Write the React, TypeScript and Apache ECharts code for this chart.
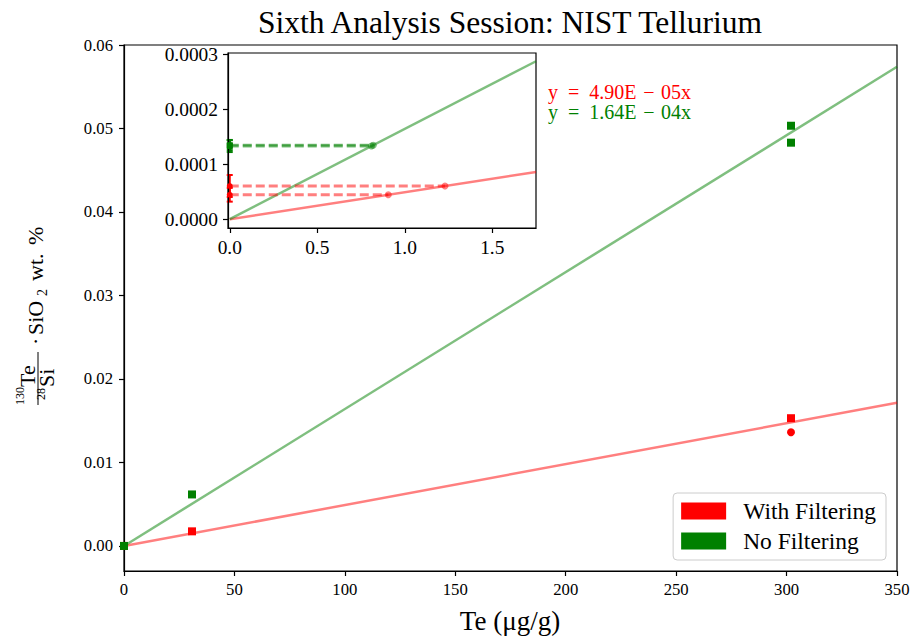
import React, { useEffect, useRef } from "react";
import * as echarts from "echarts";

// ---- data ----
const TITLE = "Sixth Analysis Session: NIST Tellurium";
const X_LABEL = "Te (μg/g)";
const SERIES_NAMES = ["With Filtering", "No Filtering"];
const SLOPE_FILTERED = 4.9e-5;
const SLOPE_UNFILTERED = 1.64e-4;
const EQ_LABELS = ["y\u2002=\u20024.90E\u2004−\u200405x", "y\u2002=\u20021.64E\u2004−\u200404x"];

// main panel points [Te µg/g, ratio]
const RED_SQUARES = [[0, 0], [30.8, 0.00175], [302, 0.0153]];
const RED_CIRCLES = [[0, 0], [302, 0.01362]];
const GREEN_SQUARES = [[0, 0], [30.8, 0.00617], [302, 0.05033], [302, 0.0483]];

// inset: blank measurements (value, error) and interpolated concentrations
const RED_BLANK = [[0.0000603, 0.00002], [0.0000444, 0.0000125]];
const GREEN_BLANK = [[0.000133, 0.000011], [0.0001345, 0.000009]];
const RED_INTERP_X = [1.23, 0.906];
const GREEN_INTERP_X = [0.81, 0.82];

const MAIN_X_TICKS = [0, 50, 100, 150, 200, 250, 300, 350];
const MAIN_Y_TICKS = [0, 0.01, 0.02, 0.03, 0.04, 0.05, 0.06];
const INSET_X_TICKS = [0, 0.5, 1.0, 1.5];
const INSET_Y_TICKS = [0, 0.0001, 0.0002, 0.0003];

const RED = "#ff0000";
const GREEN = "#008000";
const RED_A = "rgba(255,0,0,0.5)";
const GREEN_A = "rgba(0,128,0,0.5)";
const FONT = "Liberation Serif";

function axisCommon(fontSize: number) {
  return {
    axisLine: { show: true, onZero: false, lineStyle: { color: "#000", width: 1.2 } },
    axisTick: { show: true, length: 5, lineStyle: { color: "#000", width: 1.2 } },
    splitLine: { show: false },
    axisLabel: { color: "#000", fontSize, fontFamily: FONT, margin: 10 },
  };
}

function errorBarSeries(name: string, color: string, blanks: number[][]) {
  return {
    type: "custom",
    name,
    xAxisIndex: 1,
    yAxisIndex: 1,
    z: 4,
    silent: true,
    data: blanks.map(([v, e]) => [0, v - e, v + e]),
    renderItem: (params: any, api: any) => {
      const lo = api.coord([api.value(0), api.value(1)]);
      const hi = api.coord([api.value(0), api.value(2)]);
      const cap = 3;
      const style = { stroke: color, lineWidth: 2 };
      return {
        type: "group",
        children: [
          { type: "line", shape: { x1: lo[0], y1: lo[1], x2: hi[0], y2: hi[1] }, style },
          { type: "line", shape: { x1: lo[0] - cap, y1: lo[1], x2: lo[0] + cap, y2: lo[1] }, style },
          { type: "line", shape: { x1: hi[0] - cap, y1: hi[1], x2: hi[0] + cap, y2: hi[1] }, style },
        ],
      };
    },
  };
}

function buildOption() {
  const mainFitX = [0, 350];
  const insetFitX = [0, 1.75];
  const series: any[] = [
    {
      type: "line", xAxisIndex: 0, yAxisIndex: 0, symbol: "none", silent: true,
      lineStyle: { color: RED_A, width: 2.5 },
      data: mainFitX.map((x) => [x, SLOPE_FILTERED * x]),
    },
    {
      type: "line", xAxisIndex: 0, yAxisIndex: 0, symbol: "none", silent: true,
      lineStyle: { color: GREEN_A, width: 2.5 },
      data: mainFitX.map((x) => [x, SLOPE_UNFILTERED * x]),
    },
    {
      name: SERIES_NAMES[0], type: "scatter", xAxisIndex: 0, yAxisIndex: 0, z: 5,
      symbol: "rect", symbolSize: 8, itemStyle: { color: RED, opacity: 1 }, data: RED_SQUARES,
    },
    {
      type: "scatter", xAxisIndex: 0, yAxisIndex: 0, z: 5,
      symbol: "circle", symbolSize: 8, itemStyle: { color: RED, opacity: 1 }, data: RED_CIRCLES,
    },
    {
      name: SERIES_NAMES[1], type: "scatter", xAxisIndex: 0, yAxisIndex: 0, z: 5,
      symbol: "rect", symbolSize: 8, itemStyle: { color: GREEN, opacity: 1 }, data: GREEN_SQUARES,
    },
    {
      type: "line", xAxisIndex: 1, yAxisIndex: 1, symbol: "none", silent: true,
      lineStyle: { color: RED_A, width: 2.5 },
      data: insetFitX.map((x) => [x, SLOPE_FILTERED * x]),
    },
    {
      type: "line", xAxisIndex: 1, yAxisIndex: 1, symbol: "none", silent: true,
      lineStyle: { color: GREEN_A, width: 2.5 },
      data: insetFitX.map((x) => [x, SLOPE_UNFILTERED * x]),
    },
  ];
  RED_BLANK.forEach(([v], i) => {
    series.push({
      type: "line", xAxisIndex: 1, yAxisIndex: 1, symbol: "none", silent: true, z: 3,
      lineStyle: { color: RED_A, width: 2.8, type: [9, 4] },
      data: [[0, v], [RED_INTERP_X[i], v]],
    });
  });
  GREEN_BLANK.forEach(([v], i) => {
    series.push({
      type: "line", xAxisIndex: 1, yAxisIndex: 1, symbol: "none", silent: true, z: 3,
      lineStyle: { color: GREEN_A, width: 2.8, type: [9, 4] },
      data: [[0, v], [GREEN_INTERP_X[i], v]],
    });
  });
  series.push(errorBarSeries("red-err", RED, RED_BLANK));
  series.push(errorBarSeries("green-err", GREEN, GREEN_BLANK));
  series.push({
    type: "scatter", xAxisIndex: 1, yAxisIndex: 1, z: 5, symbol: "circle", symbolSize: 6,
    itemStyle: { color: RED, opacity: 1 }, data: RED_BLANK.map(([v]) => [0, v]),
  });
  series.push({
    type: "scatter", xAxisIndex: 1, yAxisIndex: 1, z: 5, symbol: "rect", symbolSize: 6,
    itemStyle: { color: GREEN, opacity: 1 }, data: GREEN_BLANK.map(([v]) => [0, v]),
  });
  series.push({
    type: "scatter", xAxisIndex: 1, yAxisIndex: 1, z: 5, symbol: "circle", symbolSize: 7,
    itemStyle: { color: RED_A, opacity: 1 }, data: RED_BLANK.map(([v], i) => [RED_INTERP_X[i], v]),
  });
  series.push({
    type: "scatter", xAxisIndex: 1, yAxisIndex: 1, z: 5, symbol: "circle", symbolSize: 7,
    itemStyle: { color: GREEN_A, opacity: 1 }, data: GREEN_BLANK.map(([v], i) => [GREEN_INTERP_X[i], v]),
  });

  const yLabelStyle = (text: string, x: number, y: number, size: number) => ({
    type: "text", x, y,
    style: { text, fontSize: size, fontFamily: FONT, fill: "#000", textAlign: "left", textVerticalAlign: "middle" },
  });

  return {
    animation: false,
    backgroundColor: "#fff",
    textStyle: { fontFamily: FONT },
    grid: [
      { left: 124, top: 45, width: 773, height: 526, show: true, borderColor: "#000", borderWidth: 1.2 },
      { left: 228, top: 53, width: 308, height: 175, show: true, borderColor: "#000", borderWidth: 1.2, backgroundColor: "#fff", z: 3 },
    ],
    xAxis: [
      {
        type: "value", gridIndex: 0, min: 0, max: 350, interval: 50,
        ...axisCommon(16.7),
        axisLabel: { ...axisCommon(16.7).axisLabel, customValues: MAIN_X_TICKS, formatter: (v: number) => String(v) },
        axisTick: { ...axisCommon(16.7).axisTick, customValues: MAIN_X_TICKS },
      },
      {
        type: "value", gridIndex: 1, min: -0.01, max: 1.75, z: 4,
        ...axisCommon(19.4),
        axisLabel: { ...axisCommon(19.4).axisLabel, customValues: INSET_X_TICKS, formatter: (v: number) => v.toFixed(1) },
        axisTick: { ...axisCommon(19.4).axisTick, customValues: INSET_X_TICKS },
      },
    ],
    yAxis: [
      {
        type: "value", gridIndex: 0, min: -0.003, max: 0.06,
        ...axisCommon(16.7),
        axisLabel: { ...axisCommon(16.7).axisLabel, margin: 11, customValues: MAIN_Y_TICKS, formatter: (v: number) => v.toFixed(2) },
        axisTick: { ...axisCommon(16.7).axisTick, customValues: MAIN_Y_TICKS },
      },
      {
        type: "value", gridIndex: 1, min: -0.000016, max: 0.000302, z: 4,
        ...axisCommon(19.4),
        axisLabel: { ...axisCommon(19.4).axisLabel, customValues: INSET_Y_TICKS, formatter: (v: number) => v.toFixed(4) },
        axisTick: { ...axisCommon(19.4).axisTick, customValues: INSET_Y_TICKS },
      },
    ],
    legend: {
      data: SERIES_NAMES,
      orient: "vertical",
      right: 28,
      bottom: 76,
      icon: "rect",
      itemWidth: 45,
      itemHeight: 17,
      itemGap: 6,
      padding: [6, 10, 7, 8],
      backgroundColor: "#fff",
      borderColor: "#cccccc",
      borderWidth: 1,
      borderRadius: 4,
      textStyle: { fontSize: 23.5, fontFamily: FONT, color: "#000", padding: [0, 0, 0, 12] },
    },
    graphic: [
      {
        type: "text", x: 510, y: 22,
        style: { text: TITLE, fontSize: 31.5, fontFamily: FONT, fill: "#000", textAlign: "center", textVerticalAlign: "middle" },
      },
      {
        type: "text", x: 510, y: 621,
        style: { text: X_LABEL, fontSize: 27, fontFamily: FONT, fill: "#000", textAlign: "center", textVerticalAlign: "middle" },
      },
      {
        type: "text", x: 548, y: 102,
        style: {
          text: `{r|${EQ_LABELS[0]}}\n{g|${EQ_LABELS[1]}}`,
          textAlign: "left", textVerticalAlign: "middle",
          rich: {
            r: { fontSize: 20, fontFamily: FONT, fill: RED, color: RED, lineHeight: 20 },
            g: { fontSize: 20, fontFamily: FONT, fill: GREEN, color: GREEN, lineHeight: 20 },
          },
        },
      },
      {
        type: "group", x: 38, y: 308, rotation: Math.PI / 2,
        children: [
          yLabelStyle("130", -97, -18, 12),
          yLabelStyle("Te", -79, -11, 22),
          { type: "line", shape: { x1: -97, y1: 0, x2: -44, y2: 0 }, style: { stroke: "#000", lineWidth: 1 } },
          yLabelStyle("28", -92, 3, 12),
          yLabelStyle("Si", -79, 8, 22),
          yLabelStyle("·", -37, -3, 22),
          yLabelStyle("SiO", -27, -3, 22),
          yLabelStyle("2", 12, 4, 14),
          yLabelStyle("wt.", 27, -3, 22),
          yLabelStyle("%", 63, -3, 22),
        ],
      },
    ],
    series,
  };
}

export default function App() {
  const ref = useRef<HTMLDivElement>(null);
  useEffect(() => {
    if (!ref.current) return;
    const chart = echarts.init(ref.current, undefined, { renderer: "svg" });
    chart.setOption(buildOption() as any);
    return () => chart.dispose();
  }, []);
  return <div ref={ref} style={{ width: 914, height: 636, position: "absolute", left: 0, top: 0 }} />;
}
